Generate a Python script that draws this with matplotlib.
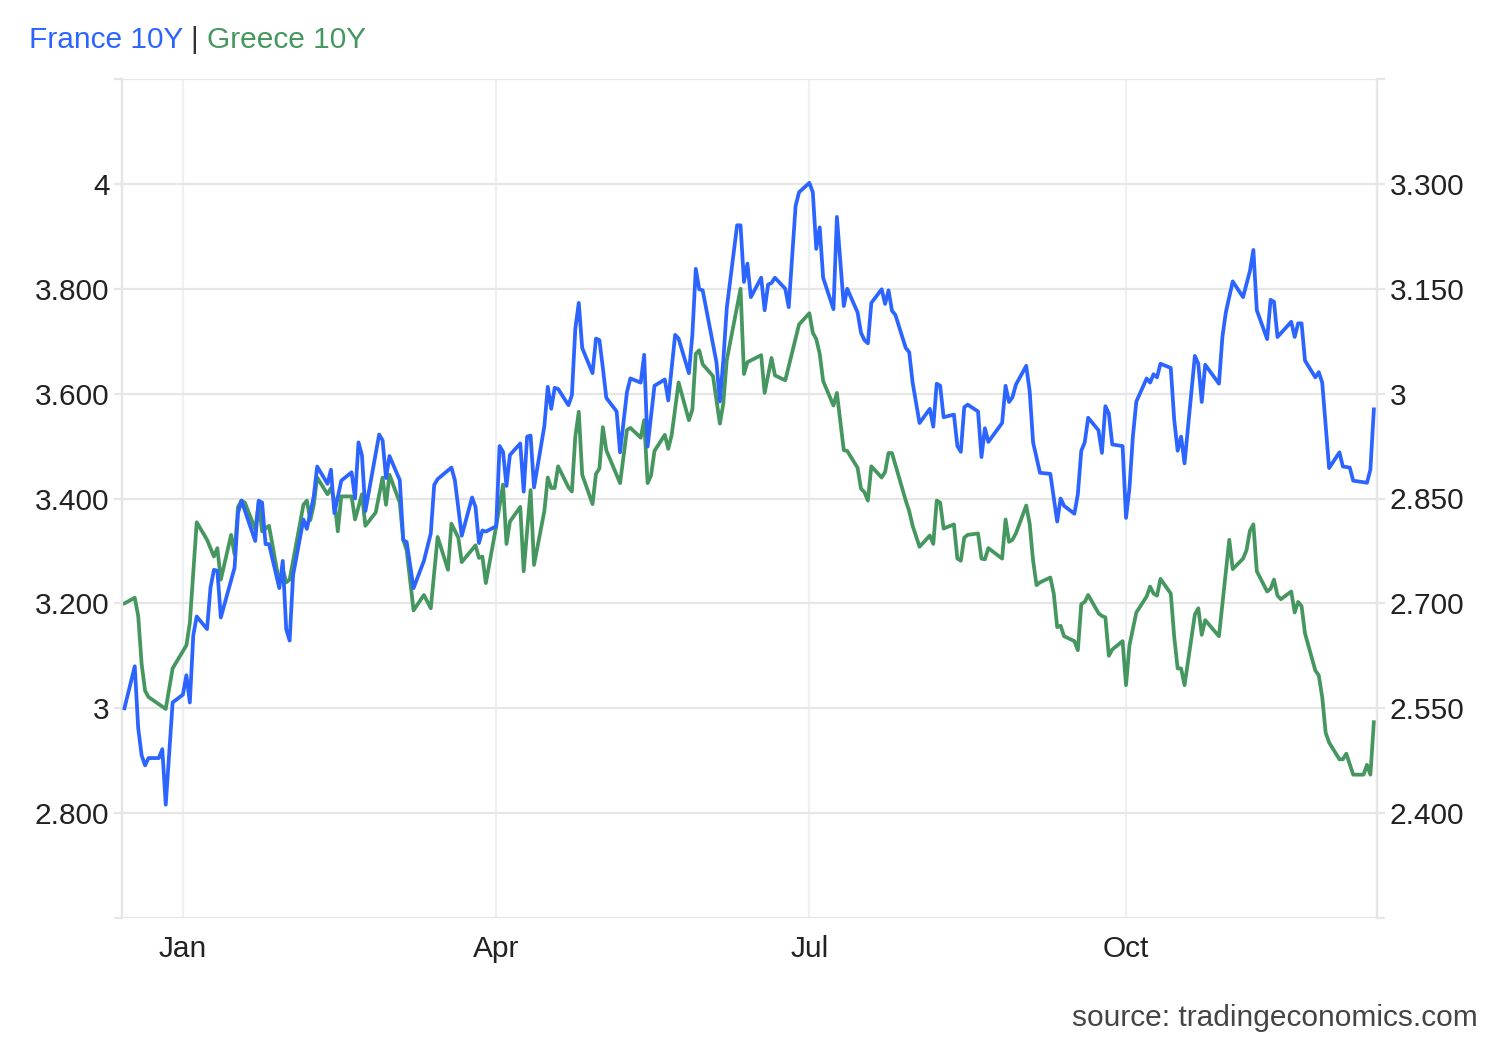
import matplotlib
matplotlib.use("Agg")
import matplotlib.pyplot as plt
import matplotlib.ticker as mticker
import pandas as pd

plt.rcParams['font.family'] = ['Liberation Sans', 'DejaVu Sans']

# --- data ---
france_dates = [
    "2023-12-15", "2023-12-18", "2023-12-19", "2023-12-20", "2023-12-21", "2023-12-22", "2023-12-25",
    "2023-12-26", "2023-12-27", "2023-12-29",
    "2024-01-01", "2024-01-02", "2024-01-03", "2024-01-04", "2024-01-05", "2024-01-08", "2024-01-09",
    "2024-01-10", "2024-01-11", "2024-01-12", "2024-01-16", "2024-01-17", "2024-01-18", "2024-01-22",
    "2024-01-23", "2024-01-24", "2024-01-25", "2024-01-26", "2024-01-29", "2024-01-30", "2024-01-31",
    "2024-02-01", "2024-02-02", "2024-02-05", "2024-02-06", "2024-02-08", "2024-02-09", "2024-02-12",
    "2024-02-13", "2024-02-14", "2024-02-16", "2024-02-19", "2024-02-20", "2024-02-21", "2024-02-22",
    "2024-02-23", "2024-02-27", "2024-02-28", "2024-02-29",
    "2024-03-01", "2024-03-04", "2024-03-05", "2024-03-06", "2024-03-08", "2024-03-11", "2024-03-13",
    "2024-03-14", "2024-03-15", "2024-03-19", "2024-03-20", "2024-03-22", "2024-03-25", "2024-03-26",
    "2024-03-27", "2024-03-28", "2024-03-29",
    "2024-04-01", "2024-04-02", "2024-04-03", "2024-04-04", "2024-04-05", "2024-04-08", "2024-04-09",
    "2024-04-10", "2024-04-11", "2024-04-12", "2024-04-15", "2024-04-16", "2024-04-17", "2024-04-18",
    "2024-04-19", "2024-04-22", "2024-04-23", "2024-04-24", "2024-04-25", "2024-04-26", "2024-04-29",
    "2024-04-30",
    "2024-05-01", "2024-05-02", "2024-05-03", "2024-05-06", "2024-05-07", "2024-05-09", "2024-05-10",
    "2024-05-13", "2024-05-14", "2024-05-15", "2024-05-17", "2024-05-20", "2024-05-21", "2024-05-23",
    "2024-05-24", "2024-05-27", "2024-05-28", "2024-05-29", "2024-05-30", "2024-05-31",
    "2024-06-04", "2024-06-05", "2024-06-06", "2024-06-07", "2024-06-10", "2024-06-11", "2024-06-12",
    "2024-06-13", "2024-06-14", "2024-06-17", "2024-06-18", "2024-06-19", "2024-06-20", "2024-06-21",
    "2024-06-24", "2024-06-25", "2024-06-27", "2024-06-28",
    "2024-07-01", "2024-07-02", "2024-07-03", "2024-07-04", "2024-07-05", "2024-07-08", "2024-07-09",
    "2024-07-11", "2024-07-12", "2024-07-15", "2024-07-16", "2024-07-17", "2024-07-18", "2024-07-19",
    "2024-07-22", "2024-07-23", "2024-07-24", "2024-07-25", "2024-07-26", "2024-07-29", "2024-07-30",
    "2024-07-31",
    "2024-08-02", "2024-08-05", "2024-08-06", "2024-08-07", "2024-08-08", "2024-08-09", "2024-08-12",
    "2024-08-13", "2024-08-14", "2024-08-15", "2024-08-16", "2024-08-19", "2024-08-20", "2024-08-21",
    "2024-08-22", "2024-08-26", "2024-08-27", "2024-08-28", "2024-08-29", "2024-08-30",
    "2024-09-02", "2024-09-03", "2024-09-04", "2024-09-06", "2024-09-09", "2024-09-11", "2024-09-12",
    "2024-09-13", "2024-09-16", "2024-09-17", "2024-09-18", "2024-09-19", "2024-09-20", "2024-09-23",
    "2024-09-24", "2024-09-25", "2024-09-26", "2024-09-27", "2024-09-30",
    "2024-10-01", "2024-10-02", "2024-10-03", "2024-10-04", "2024-10-07", "2024-10-08", "2024-10-09",
    "2024-10-10", "2024-10-11", "2024-10-14", "2024-10-15", "2024-10-16", "2024-10-17", "2024-10-18",
    "2024-10-21", "2024-10-22", "2024-10-23", "2024-10-24", "2024-10-28", "2024-10-29", "2024-10-30",
    "2024-11-01", "2024-11-04", "2024-11-06", "2024-11-07", "2024-11-08", "2024-11-11", "2024-11-12",
    "2024-11-13", "2024-11-14", "2024-11-18", "2024-11-19", "2024-11-20", "2024-11-21", "2024-11-22",
    "2024-11-25", "2024-11-26", "2024-11-27", "2024-11-29",
    "2024-12-02", "2024-12-03", "2024-12-05", "2024-12-06", "2024-12-10", "2024-12-11", "2024-12-12",
]
france_values = [
    3.000, 3.080, 2.962, 2.910, 2.891, 2.905, 2.905, 2.922, 2.816, 3.011,
    3.026, 3.063, 3.011, 3.139, 3.175, 3.151, 3.230, 3.264, 3.262, 3.173, 3.268, 3.372, 3.396, 3.319,
    3.396, 3.392, 3.313, 3.313, 3.229, 3.281, 3.151,
    3.129, 3.254, 3.360, 3.342, 3.404, 3.461, 3.428, 3.455, 3.372, 3.434, 3.450, 3.400, 3.507, 3.483,
    3.376, 3.522, 3.511, 3.439,
    3.481, 3.435, 3.321, 3.317, 3.229, 3.281, 3.333, 3.426, 3.437, 3.459, 3.435, 3.329, 3.402, 3.384,
    3.315, 3.339, 3.337,
    3.347, 3.500, 3.489, 3.424, 3.483, 3.505, 3.413, 3.518, 3.520, 3.421, 3.538, 3.613, 3.571, 3.611,
    3.609, 3.578, 3.597, 3.724, 3.773, 3.687, 3.639, 3.705,
    3.702, 3.649, 3.592, 3.566, 3.488, 3.603, 3.629, 3.621, 3.674, 3.499, 3.615, 3.627, 3.587, 3.712,
    3.705, 3.639, 3.712, 3.838, 3.799, 3.797,
    3.660, 3.585, 3.664, 3.763, 3.921, 3.921, 3.813, 3.848, 3.784, 3.821, 3.759, 3.808, 3.811, 3.821,
    3.800, 3.765, 3.958, 3.984,
    4.002, 3.984, 3.876, 3.917, 3.821, 3.761, 3.937, 3.767, 3.800, 3.755, 3.716, 3.702, 3.696, 3.773,
    3.799, 3.771, 3.797, 3.758, 3.750, 3.687, 3.679, 3.621,
    3.544, 3.571, 3.537, 3.619, 3.615, 3.555, 3.560, 3.500, 3.489, 3.574, 3.579, 3.566, 3.479, 3.534,
    3.508, 3.544, 3.615, 3.584, 3.593, 3.617,
    3.653, 3.605, 3.507, 3.449, 3.447, 3.356, 3.400, 3.386, 3.371, 3.408, 3.491, 3.507, 3.554, 3.530,
    3.487, 3.576, 3.562, 3.503, 3.500,
    3.363, 3.420, 3.519, 3.585, 3.629, 3.621, 3.637, 3.631, 3.657, 3.649, 3.550, 3.491, 3.518, 3.467,
    3.672, 3.657, 3.584, 3.655, 3.619, 3.708, 3.755,
    3.814, 3.784, 3.834, 3.874, 3.759, 3.704, 3.779, 3.775, 3.708, 3.737, 3.708, 3.734, 3.734, 3.663,
    3.631, 3.641, 3.621, 3.458,
    3.488, 3.461, 3.459, 3.434, 3.430, 3.455, 3.570,
]

greece_dates = [
    "2023-12-15", "2023-12-18", "2023-12-19", "2023-12-20", "2023-12-21", "2023-12-22", "2023-12-27",
    "2023-12-29",
    "2024-01-02", "2024-01-03", "2024-01-05", "2024-01-08", "2024-01-10", "2024-01-11", "2024-01-12",
    "2024-01-15", "2024-01-16", "2024-01-17", "2024-01-18", "2024-01-19", "2024-01-22", "2024-01-23",
    "2024-01-24", "2024-01-26", "2024-01-29", "2024-01-30", "2024-01-31",
    "2024-02-01", "2024-02-05", "2024-02-06", "2024-02-07", "2024-02-08", "2024-02-09", "2024-02-12",
    "2024-02-13", "2024-02-14", "2024-02-15", "2024-02-16", "2024-02-19", "2024-02-20", "2024-02-22",
    "2024-02-23", "2024-02-26", "2024-02-28", "2024-02-29",
    "2024-03-01", "2024-03-04", "2024-03-05", "2024-03-06", "2024-03-08", "2024-03-11", "2024-03-13",
    "2024-03-15", "2024-03-18", "2024-03-19", "2024-03-21", "2024-03-22", "2024-03-26", "2024-03-27",
    "2024-03-28", "2024-03-29",
    "2024-04-01", "2024-04-03", "2024-04-04", "2024-04-05", "2024-04-08", "2024-04-09", "2024-04-11",
    "2024-04-12", "2024-04-15", "2024-04-16", "2024-04-17", "2024-04-18", "2024-04-19", "2024-04-22",
    "2024-04-23", "2024-04-24", "2024-04-25", "2024-04-26", "2024-04-29", "2024-04-30",
    "2024-05-01", "2024-05-02", "2024-05-03", "2024-05-07", "2024-05-09", "2024-05-10", "2024-05-13",
    "2024-05-14", "2024-05-15", "2024-05-16", "2024-05-17", "2024-05-20", "2024-05-21", "2024-05-22",
    "2024-05-24", "2024-05-27", "2024-05-28", "2024-05-29", "2024-05-30", "2024-05-31",
    "2024-06-03", "2024-06-05", "2024-06-06", "2024-06-07", "2024-06-11", "2024-06-12", "2024-06-13",
    "2024-06-17", "2024-06-18", "2024-06-20", "2024-06-21", "2024-06-24", "2024-06-25", "2024-06-28",
    "2024-07-01", "2024-07-02", "2024-07-03", "2024-07-04", "2024-07-05", "2024-07-08", "2024-07-09",
    "2024-07-11", "2024-07-12", "2024-07-15", "2024-07-16", "2024-07-17", "2024-07-18", "2024-07-19",
    "2024-07-22", "2024-07-23", "2024-07-24", "2024-07-25", "2024-07-29", "2024-07-30", "2024-07-31",
    "2024-08-02", "2024-08-05", "2024-08-06", "2024-08-07", "2024-08-08", "2024-08-09", "2024-08-12",
    "2024-08-13", "2024-08-14", "2024-08-15", "2024-08-16", "2024-08-19", "2024-08-20", "2024-08-21",
    "2024-08-22", "2024-08-26", "2024-08-27", "2024-08-28", "2024-08-29", "2024-08-30",
    "2024-09-02", "2024-09-03", "2024-09-04", "2024-09-05", "2024-09-06", "2024-09-09", "2024-09-10",
    "2024-09-11", "2024-09-12", "2024-09-13", "2024-09-16", "2024-09-17", "2024-09-18", "2024-09-19",
    "2024-09-20", "2024-09-23", "2024-09-24", "2024-09-25", "2024-09-26", "2024-09-27", "2024-09-30",
    "2024-10-01", "2024-10-02", "2024-10-04", "2024-10-07", "2024-10-08", "2024-10-09", "2024-10-10",
    "2024-10-11", "2024-10-14", "2024-10-15", "2024-10-16", "2024-10-17", "2024-10-18", "2024-10-21",
    "2024-10-22", "2024-10-23", "2024-10-24", "2024-10-28", "2024-10-29", "2024-10-31",
    "2024-11-01", "2024-11-04", "2024-11-05", "2024-11-06", "2024-11-07", "2024-11-08", "2024-11-11",
    "2024-11-12", "2024-11-13", "2024-11-14", "2024-11-15", "2024-11-18", "2024-11-19", "2024-11-20",
    "2024-11-21", "2024-11-22", "2024-11-25", "2024-11-26", "2024-11-27", "2024-11-28", "2024-11-29",
    "2024-12-02", "2024-12-03", "2024-12-04", "2024-12-06", "2024-12-09", "2024-12-10", "2024-12-11",
    "2024-12-12",
]
greece_values = [
    2.700, 2.708, 2.682, 2.613, 2.575, 2.566, 2.549, 2.607,
    2.640, 2.672, 2.816, 2.791, 2.767, 2.779, 2.734, 2.798, 2.770, 2.838, 2.847, 2.844, 2.806, 2.844,
    2.803, 2.811, 2.729, 2.749, 2.730,
    2.734, 2.841, 2.847, 2.819, 2.841, 2.880, 2.856, 2.865, 2.847, 2.803, 2.853, 2.853, 2.820, 2.856,
    2.811, 2.830, 2.880, 2.841,
    2.884, 2.844, 2.791, 2.776, 2.690, 2.712, 2.693, 2.795, 2.748, 2.814, 2.794, 2.759, 2.783, 2.765,
    2.767, 2.729,
    2.810, 2.870, 2.785, 2.817, 2.838, 2.746, 2.862, 2.755, 2.832, 2.880, 2.865, 2.865, 2.896, 2.866,
    2.860, 2.939, 2.974, 2.884, 2.842, 2.885,
    2.893, 2.952, 2.919, 2.872, 2.948, 2.951, 2.937, 2.962, 2.872, 2.883, 2.918, 2.941, 2.921, 2.941,
    3.016, 2.962, 2.977, 3.057, 3.062, 3.042,
    3.025, 2.957, 2.986, 3.048, 3.150, 3.028, 3.045, 3.055, 3.001, 3.051, 3.026, 3.019, 3.039, 3.099,
    3.115, 3.087, 3.078, 3.057, 3.018, 2.983, 3.001, 2.919, 2.918, 2.894, 2.864, 2.859, 2.847, 2.896,
    2.880, 2.888, 2.915, 2.915, 2.847, 2.832, 2.811,
    2.781, 2.797, 2.785, 2.847, 2.844, 2.807, 2.813, 2.764, 2.761, 2.794, 2.798, 2.800, 2.764, 2.763,
    2.779, 2.764, 2.820, 2.788, 2.791, 2.800,
    2.840, 2.814, 2.761, 2.726, 2.730, 2.737, 2.714, 2.666, 2.668, 2.653, 2.646, 2.633, 2.699, 2.702,
    2.712, 2.686, 2.682, 2.680, 2.625, 2.634, 2.646,
    2.583, 2.640, 2.687, 2.710, 2.724, 2.714, 2.711, 2.735, 2.714, 2.652, 2.607, 2.607, 2.583, 2.684,
    2.693, 2.655, 2.676, 2.653, 2.699, 2.791,
    2.749, 2.764, 2.776, 2.804, 2.813, 2.746, 2.717, 2.721, 2.734, 2.711, 2.706, 2.717, 2.687, 2.702,
    2.696, 2.657, 2.604, 2.597, 2.566, 2.515, 2.501,
    2.477, 2.477, 2.485, 2.455, 2.455, 2.469, 2.455, 2.530,
]

month_ticks = ["2024-01-01", "2024-04-01", "2024-07-01", "2024-10-01"]
month_labels = ["Jan", "Apr", "Jul", "Oct"]

left_ticks = [2.6, 2.8, 3.0, 3.2, 3.4, 3.6, 3.8, 4.0, 4.2]
right_ticks = [2.25, 2.40, 2.55, 2.70, 2.85, 3.00, 3.15, 3.30, 3.45]

BLUE = "#2c64ff"
GREEN = "#45975f"
GRID = "#e6e6e6"
VGRID = "#edf0f5"
FS = 21.5


def tick_fmt(ends):
    # tradingeconomics style: whole numbers bare, others with 3 decimals
    def fmt(v, pos):
        if any(abs(v - e) < 1e-6 for e in ends):
            return ""
        if abs(v - round(v)) < 1e-6:
            return f"{int(round(v))}"
        return f"{v:.3f}"
    return mticker.FuncFormatter(fmt)


fig = plt.figure(figsize=(15, 10.4), dpi=100)
ax = fig.add_axes([122 / 1500, 1 - 918 / 1040, 1255 / 1500, 839 / 1040])
ax2 = ax.twinx()

fr_x = pd.to_datetime(france_dates)
gr_x = pd.to_datetime(greece_dates)

ax.set_ylim(left_ticks[0], left_ticks[-1])
ax2.set_ylim(right_ticks[0], right_ticks[-1])
ax.set_yticks(left_ticks)
ax2.set_yticks(right_ticks)
ax.yaxis.set_major_formatter(tick_fmt([left_ticks[0], left_ticks[-1]]))
ax2.yaxis.set_major_formatter(tick_fmt([right_ticks[0], right_ticks[-1]]))

ax.set_xlim(pd.Timestamp("2023-12-14 07:00"), pd.Timestamp("2024-12-12 22:00"))
ax.set_xticks(pd.to_datetime(month_ticks))
ax.set_xticklabels(month_labels)

# grid lives on the lower axes so both lines sit above it
ax2.grid(axis="y", color=GRID, lw=1.6, zorder=0)
for d in month_ticks:
    ax2.axvline(pd.Timestamp(d), color=VGRID, lw=1.6, zorder=0)

ax2.plot(gr_x, greece_values, color=GREEN, lw=2.7, solid_joinstyle="round", zorder=3)
ax.plot(fr_x, france_values, color=BLUE, lw=2.7, solid_joinstyle="round", zorder=3)
ax.set_zorder(ax2.get_zorder() + 1)
ax.patch.set_visible(False)

for a in (ax, ax2):
    for side in ("top", "bottom"):
        a.spines[side].set_visible(False)
    for side in ("left", "right"):
        a.spines[side].set_color(GRID)
        a.spines[side].set_linewidth(1.6)

ax.tick_params(axis="y", length=6, width=1.6, color=GRID, pad=3, labelsize=FS, labelcolor="#222222")
ax2.tick_params(axis="y", length=6, width=1.6, color=GRID, pad=3, labelsize=FS, labelcolor="#222222")
ax.tick_params(axis="x", length=0, pad=12, labelsize=FS, labelcolor="#222222")

# header
fig.text(29 / 1500, 1 - 40 / 1040, "France 10Y", color=BLUE, fontsize=FS, va="center", ha="left")
fig.text(190 / 1500, 1 - 40 / 1040, "|", color="#333333", fontsize=FS, va="center", ha="left")
fig.text(207 / 1500, 1 - 40 / 1040, "Greece 10Y", color=GREEN, fontsize=FS, va="center", ha="left")

fig.text(1478 / 1500, 1 - 1018 / 1040, "source: tradingeconomics.com", color="#444444",
         fontsize=FS, va="center", ha="right")

fig.savefig("out.png", dpi=100, facecolor="white")
